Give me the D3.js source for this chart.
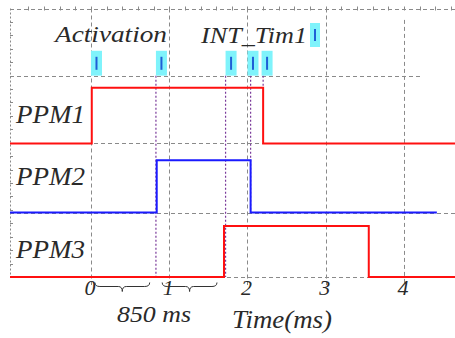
<!DOCTYPE html>
<html><head><meta charset="utf-8">
<script src="https://cdn.jsdelivr.net/npm/d3@7/dist/d3.min.js"></script>
<style>
html,body{margin:0;padding:0;background:#fff;}
svg{display:block;}
</style></head><body>
<svg id="c" width="455" height="338"></svg>
<script>
// ---- data ----
const xTicks = [0, 1, 2, 3, 4];
const xTickLabels = ["0", "1", "2", "3", "4"];
const yGrid = [0, 0.96, 2, 3, 4];
const signalNames = ["PPM1", "PPM2", "PPM3"];
// step signals: time of each level change, and level (y units) after it
const ppm1T = [-1.035, 0.01, 2.20, 4.66];
const ppm1V = [1.99, 2.82, 1.99, 1.99];
const ppm2T = [-1.035, 0.84, 2.04, 4.42];
const ppm2V = [0.96, 1.74, 0.96, 0.96];
const ppm3T = [-1.035, 1.70, 3.55, 4.66];
const ppm3V = [0.0, 0.76, 0.0, 0.0];
const signalColors = ["#ff1010", "#1a1aff", "#ff1010"];
// INT_Tim1 markers (times)
const markerT = [0, 0.83, 1.72, 2.00, 2.18];
const markerBand = [3.0, 3.37];
// event lines (times, level where they end)
const eventT = [0.83, 1.72, 2.04, 2.20];
const eventEnd = [0, 0, 0.96, 2.82];
// 850 ms braces (time spans)
const braceSpans = [[0.05, 0.75], [0.91, 1.61]];

// ---- scales ----
const svg = d3.select("#c");
const x = d3.scaleLinear().domain([-1.035, 4.652]).range([10, 455]);
const y = d3.scaleLinear().domain([0, 4]).range([277, 8.5]);

// ---- grid ----
const grid = svg.append("g").attr("stroke", "#8a8a8a").attr("stroke-width", 1)
  .attr("stroke-dasharray", "4,3").attr("fill", "none");
yGrid.forEach(v => {
  grid.append("line").attr("x1", x(-1.035)).attr("x2", v === 3 ? x(4.24) : x(4.652))
    .attr("y1", Math.round(y(v)) + 0.5).attr("y2", Math.round(y(v)) + 0.5);
});
xTicks.forEach(t => {
  grid.append("line").attr("x1", Math.round(x(t)) + 0.5).attr("x2", Math.round(x(t)) + 0.5)
    .attr("y1", t === 4 ? y(3.83) : y(4)).attr("y2", y(-0.12));
});
// left border
grid.append("line").attr("x1", x(-1.035) + 0.5).attr("x2", x(-1.035) + 0.5)
  .attr("y1", y(4)).attr("y2", y(0)).attr("stroke-dasharray", "2,2");
// minor ticks on left border
const minor = d3.range(0, 4.01, 0.2);
svg.append("g").attr("stroke", "#8a8a8a").selectAll("line").data(minor).join("line")
  .attr("x1", x(-1.035)).attr("x2", x(-1.035) + 3)
  .attr("y1", d => Math.round(y(d)) + 0.5).attr("y2", d => Math.round(y(d)) + 0.5);
// minor ticks on top border
const minorX = d3.range(-0.8, 4.65, 0.2);
svg.append("g").attr("stroke", "#8a8a8a").selectAll("line").data(minorX).join("line")
  .attr("x1", d => Math.round(x(d)) + 0.5).attr("x2", d => Math.round(x(d)) + 0.5)
  .attr("y1", y(4) - 2).attr("y2", y(4) + 2);

// ---- event lines (purple dotted) ----
svg.append("g").attr("stroke", "#7a3a9a").attr("stroke-width", 1.2)
  .attr("stroke-dasharray", "2,2")
  .selectAll("line").data(eventT).join("line")
  .attr("x1", d => x(d)).attr("x2", d => x(d))
  .attr("y1", y(markerBand[0])).attr("y2", (d, i) => y(eventEnd[i]));

// ---- signals ----
const line = d3.line().x(d => x(d[0])).y(d => y(d[1])).curve(d3.curveStepAfter);
[[ppm1T, ppm1V], [ppm2T, ppm2V], [ppm3T, ppm3V]].forEach(([T, V], i) => {
  svg.append("path").datum(T.map((t, k) => [t, V[k]]))
    .attr("d", line).attr("fill", "none")
    .attr("stroke", signalColors[i]).attr("stroke-width", 2);
});

// ---- markers ----
const mk = svg.append("g");
markerT.forEach(t => {
  mk.append("rect").attr("x", x(t)).attr("y", y(markerBand[1]))
    .attr("width", 11).attr("height", y(markerBand[0]) - y(markerBand[1]))
    .attr("fill", "#7ff3fb");
  mk.append("rect").attr("x", x(t) + 4.5).attr("y", y(markerBand[1]) + 6)
    .attr("width", 2).attr("height", 13).attr("fill", "#1f5fd6");
});
// legend marker
mk.append("rect").attr("x", 310).attr("y", 23).attr("width", 10).attr("height", 24).attr("fill", "#7ff3fb");
mk.append("rect").attr("x", 314).attr("y", 29).attr("width", 2).attr("height", 12).attr("fill", "#1f5fd6");

// ---- texts ----
const F = '"Liberation Serif","Times New Roman",serif';
function T(xp, yp, size, len, s) {
  const t = svg.append("text").attr("x", xp).attr("y", yp).attr("font-size", size)
    .attr("font-family", F).attr("font-style", "italic").attr("fill", "#2a2a2a").text(s);
  if (len) t.attr("textLength", len).attr("lengthAdjust", "spacingAndGlyphs");
  return t;
}
T(55, 42, 24, 112, "Activation");
T(201, 43, 24, 106, "INT_Tim1");

const labelBase = [123, 185, 258];
signalNames.forEach((n, i) => T(16, labelBase[i], 25, 69, n));

xTicks.forEach((d, i) => T(x(d) - 1, 295, 22, null, xTickLabels[i]).attr("text-anchor", "middle"));

// braces
const by = 286.5;
braceSpans.forEach(([a, b]) => {
  const x1 = x(a), x2 = x(b), xm = (x1 + x2) / 2;
  const p = d3.path();
  p.moveTo(x1, by - 4); p.quadraticCurveTo(x1, by, x1 + 5, by);
  p.lineTo(xm - 4, by); p.quadraticCurveTo(xm, by, xm, by + 5);
  p.quadraticCurveTo(xm, by, xm + 4, by);
  p.lineTo(x2 - 5, by); p.quadraticCurveTo(x2, by, x2, by - 4);
  svg.append("path").attr("d", p.toString()).attr("fill", "none")
    .attr("stroke", "#333").attr("stroke-width", 1);
});

T(117, 322, 24, 74, "850 ms");
T(232, 328, 25, 100, "Time(ms)");
</script></body></html>
